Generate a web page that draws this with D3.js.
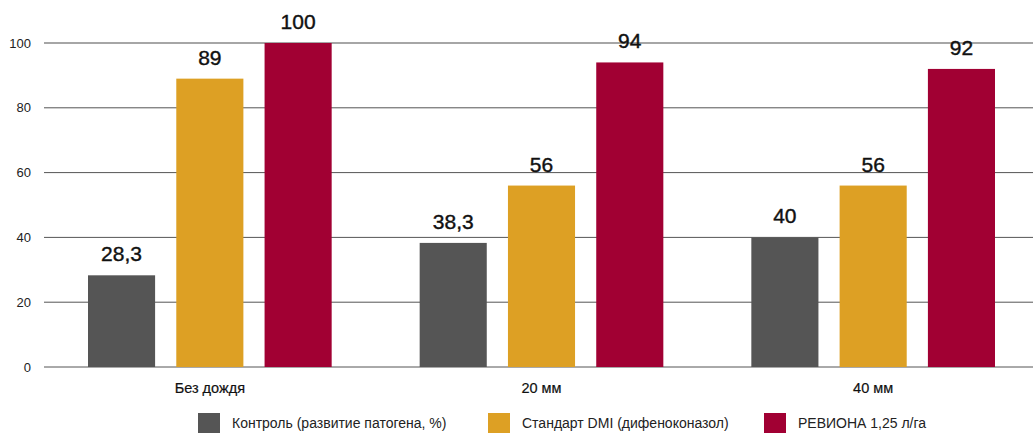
<!DOCTYPE html>
<html>
<head>
<meta charset="utf-8">
<script src="https://cdn.jsdelivr.net/npm/d3@7"></script>
<style>
  body { margin: 0; background: #fff; }
  svg { display: block; font-family: "Liberation Sans", Arial, sans-serif; }
</style>
</head>
<body>
<div id="chart"></div>
<script>
// chart data
var categories = ['Без дождя', '20 мм', '40 мм'];
var seriesNames = ['Контроль (развитие патогена, %)', 'Стандарт DMI (дифеноконазол)', 'РЕВИОНА 1,25 л/га'];
var controlValues = [28.3, 38.3, 40];
var standardValues = [89, 56, 56];
var revionaValues = [100, 94, 92];
var yTicks = [0, 20, 40, 60, 80, 100];
var colors = ['#555555', '#dda024', '#a10033'];

var width = 1033;
var height = 433;
var margin = { top: 43, left: 44, bottom: 66 };

var series = [controlValues, standardValues, revionaValues];

var svg = d3.select('#chart')
  .append('svg')
  .attr('width', width)
  .attr('height', height);

var x = d3.scaleBand()
  .domain(categories)
  .range([margin.left, 1039]);

var inner = d3.scaleBand()
  .domain(d3.range(series.length))
  .range([44, x.bandwidth() - 44])
  .paddingInner(0.24);

var y = d3.scaleLinear()
  .domain([0, 100])
  .range([height - margin.bottom, margin.top]);

// gridlines
svg.append('g')
  .selectAll('line')
  .data(yTicks)
  .enter().append('line')
  .attr('x1', margin.left)
  .attr('x2', width)
  .attr('y1', function (d) { return y(d); })
  .attr('y2', function (d) { return y(d); })
  .attr('stroke', function (d) { return d === 100 ? '#888' : '#555'; })
  .attr('stroke-width', function (d) { return d === 100 ? 1.4 : 1; });

// y tick labels
svg.append('g')
  .selectAll('text')
  .data(yTicks)
  .enter().append('text')
  .attr('x', 31)
  .attr('y', function (d) { return y(d); })
  .attr('dy', '0.35em')
  .attr('text-anchor', 'end')
  .attr('font-size', 13)
  .attr('fill', '#222')
  .text(function (d) { return d; });

// bars + value labels
var groups = svg.append('g')
  .selectAll('g')
  .data(categories)
  .enter().append('g')
  .attr('transform', function (d) { return 'translate(' + x(d) + ',0)'; });

groups.selectAll('rect')
  .data(function (d, i) { return series.map(function (s, j) { return { s: j, v: s[i] }; }); })
  .enter().append('rect')
  .attr('x', function (d) { return inner(d.s); })
  .attr('width', inner.bandwidth())
  .attr('y', function (d) { return y(d.v); })
  .attr('height', function (d) { return y(0) - y(d.v); })
  .attr('fill', function (d) { return colors[d.s]; });

groups.selectAll('text.val')
  .data(function (d, i) { return series.map(function (s, j) { return { s: j, v: s[i] }; }); })
  .enter().append('text')
  .attr('class', 'val')
  .attr('x', function (d) { return inner(d.s) + inner.bandwidth() / 2; })
  .attr('y', function (d) { return y(d.v) - 14; })
  .attr('text-anchor', 'middle')
  .attr('font-size', 21)
  .attr('fill', '#111')
  .attr('stroke', '#111')
  .attr('stroke-width', 0.4)
  .text(function (d) { return String(d.v).replace('.', ','); });

// category labels
svg.append('g')
  .selectAll('text')
  .data(categories)
  .enter().append('text')
  .attr('x', function (d) { return x(d) + x.bandwidth() / 2; })
  .attr('y', 393)
  .attr('text-anchor', 'middle')
  .attr('font-size', 14.5)
  .attr('fill', '#111')
  .attr('stroke', '#111')
  .attr('stroke-width', 0.2)
  .text(function (d) { return d; });

// legend
var legendX = [198, 488, 764];
var legend = svg.append('g')
  .selectAll('g')
  .data(seriesNames)
  .enter().append('g')
  .attr('transform', function (d, i) { return 'translate(' + legendX[i] + ',413)'; });

legend.append('rect')
  .attr('width', 22)
  .attr('height', 20)
  .attr('fill', function (d, i) { return colors[i]; });

legend.append('text')
  .attr('x', 34)
  .attr('y', 10)
  .attr('dy', '0.35em')
  .attr('font-size', 14)
  .attr('fill', '#222')
  .text(function (d) { return d; });
</script>
</body>
</html>
